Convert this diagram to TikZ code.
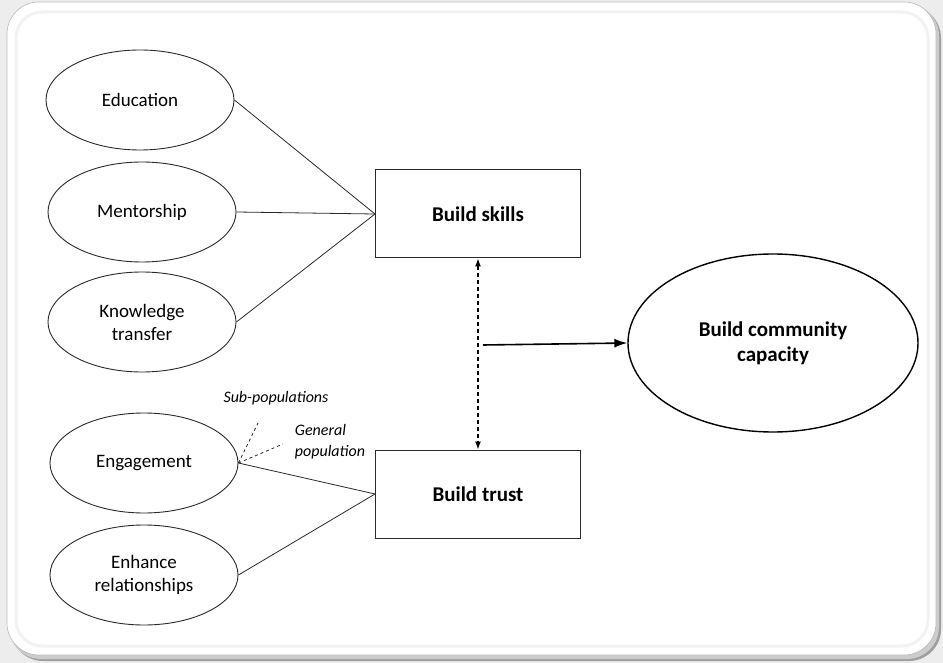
\documentclass[tikz,border=0pt]{standalone}
\usepackage{fontspec}
\setmainfont{Carlito}
\usetikzlibrary{shapes.geometric,arrows.meta}
\definecolor{pagebg}{HTML}{EDEDED}
\definecolor{ink}{HTML}{2A2A2A}
\tikzset{
  idea/.style={ellipse,draw=ink,line width=0.9pt,minimum width=188,minimum height=100,inner sep=0pt,align=center,font=\fontsize{19}{23}\selectfont},
  goal/.style={rectangle,draw=ink,line width=1pt,minimum width=205,minimum height=88,inner sep=0pt,font=\bfseries\fontsize{21}{24}\selectfont},
  outcome/.style={ellipse,draw=black,line width=1.4pt,minimum width=290,minimum height=178,inner sep=0pt,align=center,font=\bfseries\fontsize{21}{25}\selectfont},
  link/.style={draw=ink,line width=0.8pt},
  subnote/.style={font=\itshape\fontsize{16}{21}\selectfont,align=left,inner sep=0pt},
  twoway/.style={draw=black,line width=1.2pt,dash pattern=on 4pt off 3pt,{Latex[length=8pt,width=6pt]}-{Latex[length=8pt,width=6pt]}},
  leads/.style={draw=black,line width=1.6pt,-{Latex[length=13pt,width=9pt]}}
}
\begin{document}
\begin{tikzpicture}[x=1pt,y=-1pt]
\useasboundingbox (0,0) rectangle (943,663);
% panel with soft shadow
\fill[pagebg] (0,0) rectangle (943,663);
\fill[gray!75,rounded corners=32] (11,6) rectangle (941,661);
\fill[gray!40,rounded corners=32] (9,4) rectangle (939,659);
\fill[white,draw=gray!55,line width=0.6pt,rounded corners=32] (7,2) rectangle (936,655);
\draw[gray!10,line width=3pt,rounded corners=26] (16,12) rectangle (928,646);

% left-hand activities
\node[idea] (edu) at (140,100) {Education};
\node[idea] (men) at (142,212) {Mentorship};
\node[idea] (kno) at (142,322) {Knowledge\\transfer};
\node[idea] (eng) at (144,463) {Engagement};
\node[idea] (enh) at (144,575) {Enhance\\relationships};

% intermediate goals
\node[goal] (skills) at (478,214) {Build skills};
\node[goal] (trust) at (478,494) {Build trust};

% final outcome
\node[outcome] (cap) at (773,343) {Build community\\capacity};

% activities feeding the goals
\draw[link] (edu.east) -- (skills.west);
\draw[link] (men.east) -- (skills.west);
\draw[link] (kno.east) -- (skills.west);
\draw[link] (eng.east) -- (trust.west);
\draw[link] (enh.east) -- (trust.west);

% engagement audiences
\coordinate (subend) at (258,423);
\coordinate (genend) at (283,444);
\draw[ink,line width=0.8pt,dashed] (eng.east) -- (subend);
\draw[ink,line width=0.8pt,dashed] (eng.east) -- (genend);
\node[subnote] (sublab) at (276,398) {Sub-populations};
\node[subnote] (genlab) at (330,442) {General\\population};

% skills and trust reinforce each other and lead to capacity
\draw[twoway] (skills.south) -- (trust.north);
\coordinate (junction) at (483,345);
\draw[leads] (junction) -- (cap.west);
\end{tikzpicture}
\end{document}
